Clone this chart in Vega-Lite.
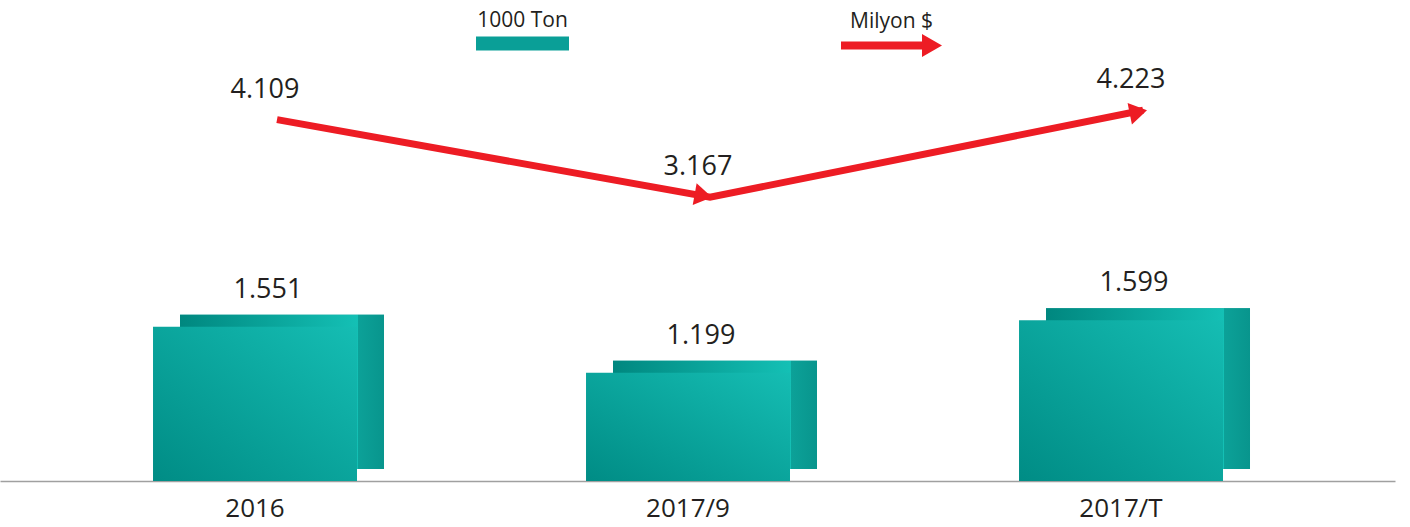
{
  "$schema": "https://vega.github.io/schema/vega-lite/v6.json",
  "width": 1395,
  "height": 481,
  "autosize": "none",
  "padding": {"left": 0, "top": 0, "right": 15, "bottom": 46},
  "background": "white",
  "config": {
    "view": {"stroke": null},
    "font": "Open Sans",
    "locale": {"number": {"decimal": ",", "thousands": ".", "grouping": [3], "currency": ["", "$"]}}
  },
  "data": {
    "values": [
      {"period": "2016", "ton": 1551, "usd": 4109},
      {"period": "2017/9", "ton": 1199, "usd": 3167},
      {"period": "2017/T", "ton": 1599, "usd": 4223}
    ]
  },
  "encoding": {
    "x": {
      "field": "period",
      "type": "nominal",
      "sort": null,
      "scale": {"type": "band", "paddingInner": 0.5289, "paddingOuter": 0.3753, "align": 0.4708},
      "axis": {
        "title": null,
        "ticks": false,
        "domainColor": "#a0a0a0",
        "domainWidth": 1.5,
        "labelFontSize": 26,
        "labelFont": "Open Sans",
        "labelColor": "#231f20",
        "labelPadding": 14,
        "labelAngle": 0
      }
    }
  },
  "layer": [
    {
      "encoding": {
        "y": {"field": "ton", "type": "quantitative", "scale": {"domain": [370, 4050], "zero": false, "nice": false}, "axis": null}
      },
      "layer": [
        {
          "mark": {"type": "bar", "xOffset": 27, "x2Offset": 27, "yOffset": -12, "y2Offset": -12},
          "encoding": {
            "y2": {"datum": 370},
            "fill": {
              "datum": "1000 Ton",
              "scale": {"range": ["#0a9f97"]},
              "legend": {
                "orient": "none",
                "legendX": 476,
                "legendY": -3,
                "title": null,
                "padding": 0,
                "symbolType": "M-1,-0.15 H1 V0.15 H-1 Z",
                "symbolSize": 8649,
                "symbolStrokeWidth": 0,
                "labelFontSize": 21,
                "labelFont": "Open Sans",
                "labelColor": "#231f20",
                "labelAlign": "center",
                "labelBaseline": "middle",
                "labelOffset": -46.5,
                "encode": {
                  "labels": {"update": {"dy": {"value": -23}}},
                  "symbols": {"update": {"fill": {"value": {"gradient": "linear", "x1": 0, "y1": 0, "x2": 1, "y2": 0, "stops": [{"offset": 0, "color": "#008a83"}, {"offset": 1, "color": "#14bdb3"}]}}}}
                }
              }
            }
          }
        },
        {
          "mark": {
            "type": "bar", "xOffset": 27, "x2Offset": 27, "yOffset": -12, "y2Offset": -12,
            "fill": {"gradient": "linear", "x1": 0, "y1": 0, "x2": 1, "y2": 0, "stops": [
              {"offset": 0, "color": "#00877f"},
              {"offset": 0.87, "color": "#14c0b5"},
              {"offset": 0.875, "color": "#0ca198"},
              {"offset": 1, "color": "#08958d"}
            ]}
          },
          "encoding": {"y2": {"datum": 370}}
        },
        {
          "mark": {
            "type": "bar",
            "fill": {"gradient": "linear", "x1": 1, "y1": 0, "x2": 0, "y2": 1, "stops": [
              {"offset": 0, "color": "#15bdb3"},
              {"offset": 1, "color": "#008c85"}
            ]}
          },
          "encoding": {"y2": {"datum": 370}}
        },
        {
          "mark": {"type": "text", "xOffset": 13, "dy": -37, "baseline": "middle", "align": "center", "fontSize": 27, "font": "Open Sans", "color": "#231f20"},
          "encoding": {"text": {"field": "ton", "type": "quantitative", "format": ",.0f"}}
        }
      ]
    },
    {
      "encoding": {
        "y": {"field": "usd", "type": "quantitative", "scale": {"domain": [-276, 5560], "zero": false, "nice": false}, "axis": null}
      },
      "layer": [
        {
          "mark": {"type": "line", "strokeWidth": 7, "strokeCap": "butt", "xOffset": 22},
          "encoding": {
            "stroke": {
              "datum": "Milyon $",
              "scale": {"range": ["#ed1c24"]},
              "legend": {
                "orient": "none",
                "legendX": 841,
                "legendY": -5,
                "title": null,
                "padding": 0,
                "symbolType": "M-1,-0.079 L0.604,-0.079 L0.604,-0.228 L1,0 L0.604,0.228 L0.604,0.079 L-1,0.079 Z",
                "symbolSize": 10201,
                "symbolStrokeWidth": 0,
                "labelFontSize": 21,
                "labelFont": "Open Sans",
                "labelColor": "#231f20",
                "labelAlign": "center",
                "labelBaseline": "middle",
                "labelOffset": -50.5,
                "encode": {
                  "labels": {"update": {"dy": {"value": -24}}},
                  "symbols": {"update": {"fill": {"value": "#ed1c24"}, "strokeWidth": {"value": 0}}}
                }
              }
            }
          }
        },
        {
          "transform": [{"filter": "datum.period == '2017/9'"}],
          "mark": {"type": "point", "shape": "M-1.6,-1 L0,0 L-1.6,1 Z", "size": 484, "filled": true, "color": "#ed1c24", "opacity": 1, "strokeWidth": 0, "angle": 10.2, "xOffset": 24}
        },
        {
          "transform": [{"filter": "datum.period == '2017/T'"}],
          "mark": {"type": "point", "shape": "M-1.6,-1 L0,0 L-1.6,1 Z", "size": 484, "filled": true, "color": "#ed1c24", "opacity": 1, "strokeWidth": 0, "angle": 348.6, "xOffset": 26}
        },
        {
          "mark": {"type": "text", "xOffset": 10, "dy": -30, "baseline": "middle", "align": "center", "fontSize": 27, "font": "Open Sans", "color": "#231f20"},
          "encoding": {"text": {"field": "usd", "type": "quantitative", "format": ",.0f"}}
        }
      ]
    }
  ],
  "resolve": {"scale": {"y": "independent"}}
}
